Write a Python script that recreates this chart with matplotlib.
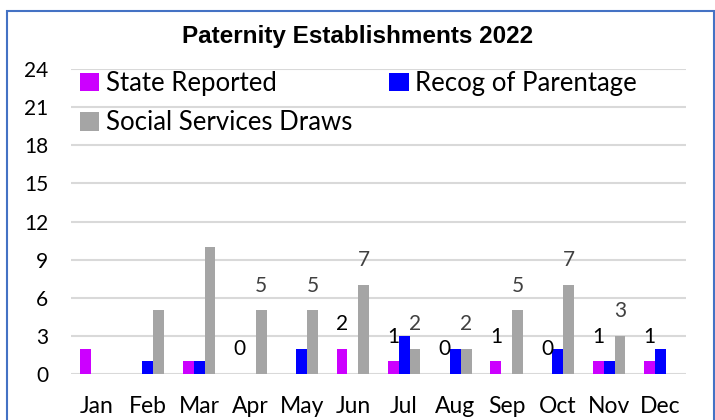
import matplotlib
matplotlib.use("Agg")
import matplotlib.pyplot as plt
import numpy as np
from matplotlib.patches import Rectangle

months = ["Jan", "Feb", "Mar", "Apr", "May", "Jun",
          "Jul", "Aug", "Sep", "Oct", "Nov", "Dec"]
state_reported = [2, 0, 1, 0, 0, 2, 1, 0, 1, 0, 1, 1]
recog_parentage = [0, 1, 1, 0, 2, 0, 3, 2, 0, 2, 1, 2]
social_services = [0, 5, 10, 5, 5, 7, 2, 2, 5, 7, 3, 0]
# months that carry a visible data label in the source chart
state_labelled = ["Apr", "Jun", "Jul", "Aug", "Sep", "Oct", "Nov", "Dec"]
social_labelled = ["Apr", "May", "Jun", "Jul", "Aug", "Sep", "Oct", "Nov"]

font = ["Lato", "DejaVu Sans"]
plt.rcParams["font.family"] = font

fig = plt.figure(figsize=(7.15, 4.2), dpi=100)
ax = fig.add_axes([71 / 715, 46 / 420, 615 / 715, 305 / 420])

x = np.arange(len(months))
w = 0.21
ax.bar(x - w, state_reported, w, color="#CC00FF", label="State Reported", zorder=3)
ax.bar(x, recog_parentage, w, color="#0000FF", label="Recog of Parentage", zorder=3)
ax.bar(x + w, social_services, w, color="#A5A5A5", label="Social Services Draws", zorder=3)

for i, m in enumerate(months):
    if m in state_labelled:
        ax.text(x[i] - w, state_reported[i] + 1.95, str(state_reported[i]),
                ha="center", va="center", fontsize=15, color="#000000", zorder=4)
    if m in social_labelled:
        ax.text(x[i] + w, social_services[i] + 1.95, str(social_services[i]),
                ha="center", va="center", fontsize=15, color="#404040", zorder=4)

ax.set_xlim(-0.5, 11.5)
ax.set_ylim(0, 24)
ax.set_yticks(range(0, 25, 3))
ax.set_xticks(x)
ax.set_xticklabels(months)
ax.tick_params(axis="both", length=0)
ax.tick_params(axis="x", pad=16, labelsize=16.5)
ax.tick_params(axis="y", pad=16.5, labelsize=15)
ax.grid(axis="y", color="#D9D9D9", linewidth=1.5, zorder=0)
for s in ax.spines.values():
    s.set_visible(False)

h, l = ax.get_legend_handles_labels()
fig.legend([h[0], h[2], h[1]], [l[0], l[2], l[1]], ncol=2, loc="upper left",
           bbox_to_anchor=(80 / 715, 1 - 71 / 420), frameon=False, fontsize=18.5,
           handlelength=0.75, handleheight=0.75, handletextpad=0.25,
           columnspacing=1.45, labelspacing=0.55, borderpad=0, borderaxespad=0)

fig.text(358 / 715, 1 - 43 / 420, "Paternity Establishments 2022", ha="center",
         va="baseline", fontsize=17.5, fontweight="bold",
         family=["Liberation Sans", "DejaVu Sans"])

# outer frame of the chart box
fig.patches.append(Rectangle((7 / 715, -0.05), 707 / 715, (420 - 11) / 420 + 0.05,
                             transform=fig.transFigure, fill=False,
                             edgecolor="#4472C4", linewidth=1.5))

fig.savefig("out.png", dpi=100)
